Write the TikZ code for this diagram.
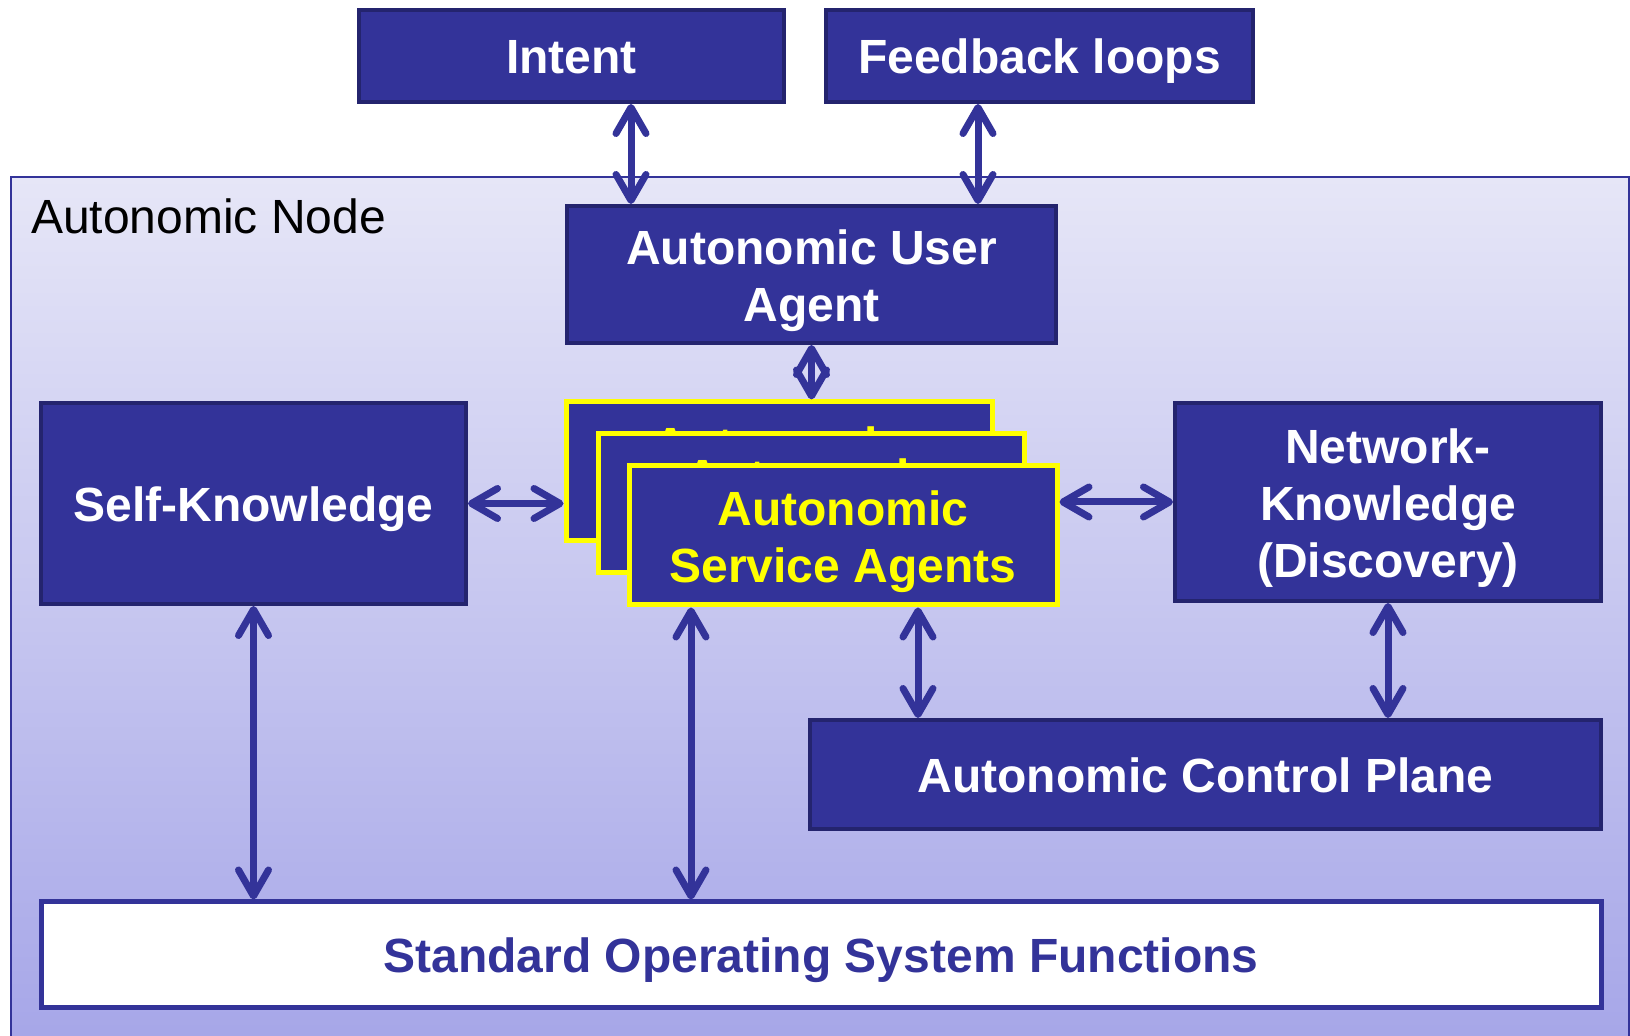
\documentclass[tikz,border=0pt]{standalone}
\usepackage{fontspec}
\setmainfont{Liberation Sans}
\usetikzlibrary{arrows.meta}
\definecolor{ink}{RGB}{51,51,153}
\definecolor{edgeink}{RGB}{36,36,110}
\definecolor{bgtop}{RGB}{230,230,247}
\definecolor{bgbot}{RGB}{166,166,232}
\definecolor{agentyellow}{RGB}{255,255,0}
\newcommand{\blkstrut}{\rule[-6pt]{0pt}{30pt}}
\newcommand{\topstrut}{\rule{0pt}{24.5pt}}
\tikzset{
  blk/.style={draw=edgeink, fill=ink, text=white, line width=2pt, inner sep=0pt,
    align=center, font=\bfseries\fontsize{24}{28.5}\selectfont,
    execute at begin node=\blkstrut, execute at end node=\blkstrut},
  agent/.style={blk, draw=agentyellow, line width=2.5pt, text=agentyellow},
  dbl/.style={draw=ink, line width=3.5pt,
    {Straight Barb[length=13pt,width=15pt,round]}-{Straight Barb[length=13pt,width=15pt,round]}}
}

\begin{document}
\begin{tikzpicture}[x=0.5pt,y=-0.5pt]
    \useasboundingbox (0,0) rectangle (1630,1036);

    % outer frame of the node
    \shade[top color=bgtop, bottom color=bgbot, draw=ink, line width=0.8pt]
      (11,177) rectangle (1629,1045);
    \node[anchor=west, font=\fontsize{24}{28}\selectfont] at (24,216) (title) {Autonomic Node};

    \node[blk, minimum width=212.5pt, minimum height=46pt] at (571.5,56) (intent) {Intent};
    \node[blk, minimum width=213.5pt, minimum height=46pt] at (1039.5,56) (feedback) {Feedback loops};
    \node[blk, minimum width=244.5pt, minimum height=68.5pt] at (811.5,274.5) (aua) {\topstrut Autonomic User\\Agent};
    \node[blk, minimum width=212.5pt, minimum height=100.5pt] at (253.5,503.5) (selfk) {Self-Knowledge};
    \node[blk, minimum width=213pt, minimum height=99pt] at (1388,502) (netk) {\topstrut Network-\\Knowledge\\(Discovery)};

    % stacked service agents
    \node[agent, minimum width=213pt, minimum height=69.5pt] at (779,471.5) (agb) {\topstrut Autonomic\\Service Agents};
    \node[agent, minimum width=213pt, minimum height=69.5pt] at (811,503.5) (agm) {\topstrut Autonomic\\Service Agents};
    \node[agent, minimum width=214pt, minimum height=69.5pt] at (843,535.5) (agf) {\topstrut Autonomic\\Service Agents};

    \node[blk, minimum width=395.5pt, minimum height=54.5pt] at (1205.5,774.5) (acp) {Autonomic Control Plane};
    \node[blk, fill=white, draw=ink, line width=2.5pt, text=ink, minimum width=780pt, minimum height=53pt]
      at (821,955) (sos) {Standard Operating System Functions};

    \draw[dbl] ([xshift=29.75pt]intent.south) -- ([xshift=-90.25pt]aua.north);
    \draw[dbl] ([xshift=-30.75pt]feedback.south) -- ([xshift=83.25pt]aua.north);
    \draw[dbl] (aua.south) -- (aua.south |- agb.north);
    \draw[dbl] (selfk.east) -- (selfk.east -| agb.west);
    \draw[dbl] (netk.west -| agf.east) -- (netk.west);
    \draw[dbl] (selfk.south) -- (selfk.south |- sos.north);
    \draw[dbl] ([xshift=-76pt]agf.south) coordinate (ps) -- (ps |- sos.north);
    \draw[dbl] ([xshift=37.5pt]agf.south) coordinate (pc) -- (pc |- acp.north);
    \draw[dbl] (netk.south) -- (netk.south |- acp.north);
\end{tikzpicture}
\end{document}
